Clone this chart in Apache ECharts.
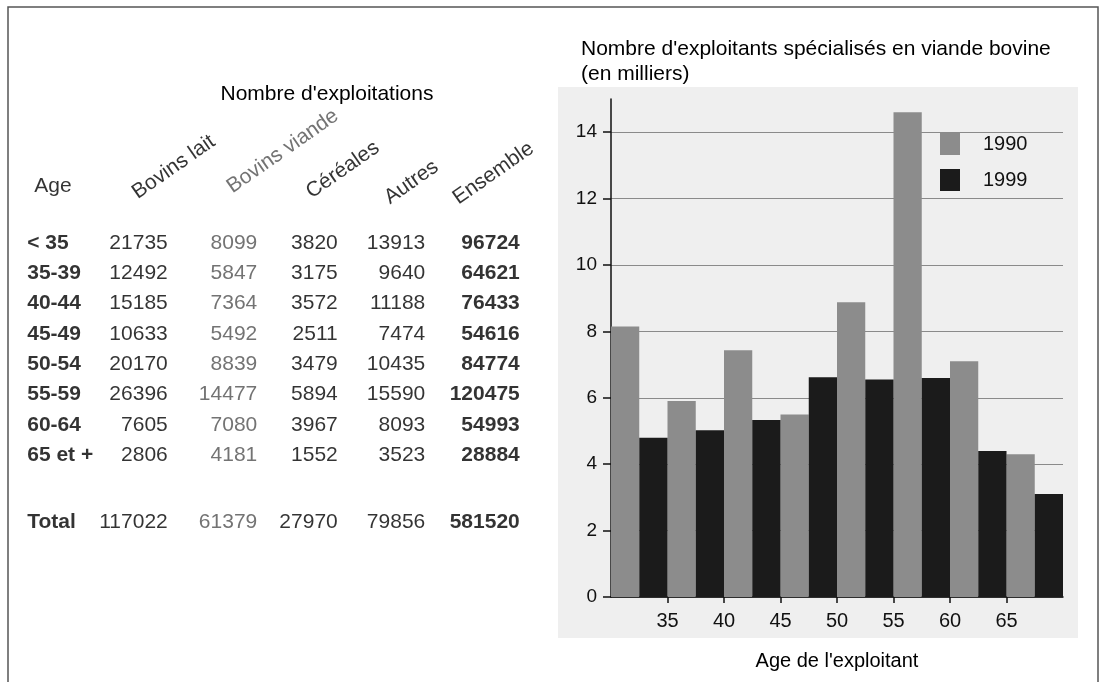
<!DOCTYPE html>
<html><head><meta charset="utf-8">
<script src="https://cdn.jsdelivr.net/npm/echarts@6/dist/echarts.min.js"></script>
<style>html,body{margin:0;padding:0;background:#fff}#c{width:1106px;height:682px}</style>
</head><body><div id="c"></div>
<script>
// ---- data ----
const ageGroups = ['< 35','35-39','40-44','45-49','50-54','55-59','60-64','65 et +'];
const tableColumns = ['Bovins lait','Bovins viande','Céréales','Autres','Ensemble'];
const bovinsLait   = [21735,12492,15185,10633,20170,26396,7605,2806];
const bovinsViande = [8099,5847,7364,5492,8839,14477,7080,4181];
const cereales     = [3820,3175,3572,2511,3479,5894,3967,1552];
const autres       = [13913,9640,11188,7474,10435,15590,8093,3523];
const ensemble     = [96724,64621,76433,54616,84774,120475,54993,28884];
const totals       = [117022,61379,27970,79856,581520];
const totalLabel = 'Total';
const ageHeader = 'Age';
const tableTitle = "Nombre d'exploitations";
const chartTitle = "Nombre d'exploitants spécialisés en viande bovine\n(en milliers)";
const xAxisName = "Age de l'exploitant";
const seriesNames = ['1990','1999'];
const exploitants1990 = [8.15,5.9,7.43,5.5,8.88,14.6,7.1,4.3];
const exploitants1999 = [4.8,5.02,5.33,6.62,6.55,6.6,4.4,3.1];
const xTickValues = [35,40,45,50,55,60,65];
const yTickValues = [0,2,4,6,8,10,12,14];

// ---- layout / style ----
const FONT = 'Liberation Sans, Arial, Helvetica, sans-serif';
const GRAY = '#8c8c8c', BLACK = '#1b1b1b', TXT = '#000';
const headerShift = [[-13, 6], [-3, 6], [-12, 6], [-22, 6], [-37, -4]];
const colStyles = [
  {color: TXT, fontWeight: 'normal', offset: [26, 0]},
  {color: '#505050', fontWeight: 'normal', offset: [29, 0]},
  {color: TXT, fontWeight: 'normal', offset: [23, 0]},
  {color: TXT, fontWeight: 'normal', offset: [24, 0]},
  {color: TXT, fontWeight: 'bold', offset: [32, 0]}
];
const totalRowShift = 6;

const rowCats = [ageHeader, ' ', ...ageGroups, '  ', totalLabel];
const tableCols = [bovinsLait, bovinsViande, cereales, autres, ensemble];
const lastRow = rowCats.length - 1;

const tableSeries = [];
// row labels
const rowLabelData = ageGroups.map((g, i) => [0, i + 2, g]);
rowLabelData.push({value: [0, lastRow, totalLabel], label: {offset: [-28, totalRowShift]}});
tableSeries.push({
  type: 'scatter', xAxisIndex: 2, yAxisIndex: 1, symbolSize: 0, silent: true,
  data: rowLabelData,
  label: {show: true, position: 'inside', align: 'left', verticalAlign: 'middle',
    offset: [-28, 0], fontFamily: FONT, fontSize: 21, fontWeight: 'bold', color: TXT,
    formatter: p => p.value[2]}
});
// values
tableCols.forEach((col, ci) => {
  const st = colStyles[ci];
  const d = col.map((v, ri) => [ci + 1, ri + 2, v]);
  d.push({value: [ci + 1, lastRow, totals[ci]], label: {offset: [st.offset[0], totalRowShift]}});
  tableSeries.push({
    type: 'scatter', xAxisIndex: 2, yAxisIndex: 1, symbolSize: 0, silent: true,
    data: d,
    label: {show: true, position: 'inside', align: 'right', verticalAlign: 'middle',
      offset: st.offset, color: st.color, fontWeight: st.fontWeight,
      fontFamily: FONT, fontSize: 21, formatter: p => String(p.value[2])}
  });
});
// headers
const headerData = [{value: [0, 0, ageHeader], label: {rotate: 0, offset: [-21, 4]}}];
tableColumns.forEach((h, ci) => {
  headerData.push({value: [ci + 1, 0, h], label: {rotate: 35, offset: headerShift[ci], color: ci === 1 ? '#505050' : TXT}});
});
tableSeries.push({
  type: 'scatter', xAxisIndex: 2, yAxisIndex: 1, symbolSize: 0, silent: true,
  data: headerData,
  label: {show: true, position: 'inside', align: 'left', verticalAlign: 'middle',
    fontFamily: FONT, fontSize: 21, color: TXT, formatter: p => p.value[2]}
});

const chart = echarts.init(document.getElementById('c'), null, {renderer: 'canvas'});
chart.setOption({
  backgroundColor: '#fff',
  animation: false,
  graphic: [
    {type: 'rect', z: -10, silent: true, shape: {x: 558, y: 87, width: 520, height: 551}, style: {fill: '#efefef'}},
    {type: 'rect', z: -5, silent: true, shape: {x: 8, y: 7, width: 1090, height: 700}, style: {fill: 'none', stroke: '#555', lineWidth: 1.5}}
  ],
  title: [
    {text: chartTitle, left: 576, top: 32, textStyle: {fontFamily: FONT, fontSize: 21, fontWeight: 'normal', color: TXT, lineHeight: 25}},
    {text: tableTitle, left: 322, textAlign: 'center', top: 79, textStyle: {fontFamily: FONT, fontSize: 21, fontWeight: 'normal', color: TXT}}
  ],
  legend: {
    data: seriesNames, orient: 'vertical', left: 935, top: 128, itemGap: 14,
    itemWidth: 20, itemHeight: 22, icon: 'rect',
    textStyle: {fontFamily: FONT, fontSize: 20, color: '#111', padding: [0, 0, 0, 18]}
  },
  grid: [
    {left: 611, right: 43, top: 99, bottom: 85},
    {left: 12, width: 519, top: 167, height: 364}
  ],
  xAxis: [
    {type: 'category', gridIndex: 0, data: ageGroups,
      axisLine: {show: true, lineStyle: {color: '#111', width: 1.5}},
      axisTick: {show: false}, axisLabel: {show: false},
      name: xAxisName, nameLocation: 'middle', nameGap: 54,
      nameTextStyle: {fontFamily: FONT, fontSize: 20, color: TXT}},
    {type: 'value', gridIndex: 0, min: 30, max: 70, interval: 5, position: 'bottom',
      axisLine: {show: false}, splitLine: {show: false},
      axisTick: {show: true, length: 6, customValues: xTickValues, lineStyle: {color: '#111', width: 1.5}},
      axisLabel: {show: true, customValues: xTickValues, margin: 14, fontFamily: FONT, fontSize: 20, color: '#111'}},
    {type: 'category', gridIndex: 1, data: ['c0','c1','c2','c3','c4','c5'], show: false}
  ],
  yAxis: [
    {type: 'value', gridIndex: 0, min: 0, max: 15, interval: 2,
      axisLine: {show: true, lineStyle: {color: '#111', width: 1.5}},
      axisTick: {show: true, length: 8, customValues: yTickValues, lineStyle: {color: '#111', width: 1.5}},
      axisLabel: {customValues: yTickValues, margin: 14, fontFamily: FONT, fontSize: 19, color: '#111'},
      splitLine: {show: true, lineStyle: {color: '#8a8a8a', width: 1.2}}},
    {type: 'category', gridIndex: 1, data: rowCats, inverse: true, show: false}
  ],
  series: [
    {name: seriesNames[0], type: 'bar', xAxisIndex: 0, yAxisIndex: 0, data: exploitants1990,
      barGap: 0, barCategoryGap: 0, itemStyle: {color: GRAY}},
    {name: seriesNames[1], type: 'bar', xAxisIndex: 0, yAxisIndex: 0, data: exploitants1999,
      barGap: 0, barCategoryGap: 0, itemStyle: {color: BLACK}},
    ...tableSeries
  ]
});
</script>
</body></html>
